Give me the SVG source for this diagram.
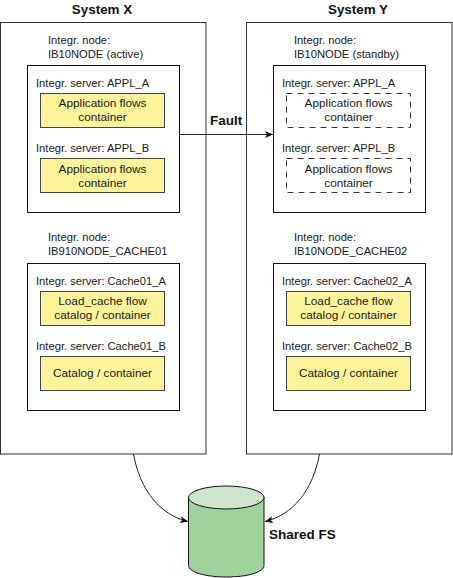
<svg xmlns="http://www.w3.org/2000/svg" width="453" height="578" viewBox="0 0 453 578">
<style>
text{font-family:"Liberation Sans",Arial,sans-serif;font-size:11.200px;fill:#1a1a1a}
.c{text-anchor:middle;font-size:11.800px}
.h{font-weight:bold;font-size:13.400px;fill:#111}
.f{font-weight:bold;font-size:13.500px;fill:#111}
.sys,.srv{fill:#fff;stroke:#333;stroke-width:1}
.srv{stroke:#111}
.y{fill:#fdf39b;stroke:#444;stroke-width:1}
.d{fill:#fff;stroke:#333;stroke-width:1;stroke-dasharray:6 5}
.l{fill:none;stroke:#222;stroke-width:1}
</style>
<defs><marker id="a" markerUnits="userSpaceOnUse" markerWidth="9" markerHeight="7" refX="8" refY="3.500" orient="auto"><path d="M0 0L8 3.500L0 7L2 3.500Z" fill="#111"/></marker></defs>
<g id="system-x">
<text class="h" text-anchor="middle" x="102" y="14">System X</text>
<rect class="sys" x="0.500" y="22.500" width="205.500" height="431.500"/>
<text x="48" y="43.500">Integr. node:</text>
<text x="48" y="57.500">IB10NODE (active)</text>
</g>
<g id="system-y">
<text class="h" text-anchor="middle" x="358" y="14">System Y</text>
<rect class="sys" x="246.500" y="22.500" width="205.500" height="431.500"/>
<text x="294" y="43.500">Integr. node:</text>
<text x="294" y="57.500">IB10NODE (standby)</text>
</g>
<g id="node-x-top">
<rect class="srv" x="27.500" y="65.500" width="152" height="147"/>
<text x="36" y="87">Integr. server: APPL_A</text>
<rect class="y" x="40.500" y="93.500" width="124" height="34"/>
<text class="c" x="102.500" y="107">Application flows</text>
<text class="c" x="102.500" y="121">container</text>
<text x="36" y="152">Integr. server: APPL_B</text>
<rect class="y" x="40.500" y="158.500" width="124" height="34"/>
<text class="c" x="102.500" y="173">Application flows</text>
<text class="c" x="102.500" y="187">container</text>
</g>
<g id="node-y-top">
<rect class="srv" x="273.500" y="65.500" width="152" height="147"/>
<text x="282" y="87">Integr. server: APPL_A</text>
<rect class="d" x="286.500" y="93.500" width="124" height="34"/>
<text class="c" x="348.500" y="107">Application flows</text>
<text class="c" x="348.500" y="121">container</text>
<text x="282" y="152">Integr. server: APPL_B</text>
<rect class="d" x="286.500" y="158.500" width="124" height="34"/>
<text class="c" x="348.500" y="173">Application flows</text>
<text class="c" x="348.500" y="187">container</text>
</g>
<g id="node-x-cache">
<text x="48" y="241">Integr. node:</text>
<text x="48" y="255">IB910NODE_CACHE01</text>
<rect class="srv" x="27.500" y="263.500" width="152" height="147"/>
<text x="36" y="285">Integr. server: Cache01_A</text>
<rect class="y" x="40.500" y="291.500" width="124" height="34"/>
<text class="c" x="102.500" y="305">Load_cache flow</text>
<text class="c" x="102.500" y="319">catalog / container</text>
<text x="36" y="350">Integr. server: Cache01_B</text>
<rect class="y" x="40.500" y="356.500" width="124" height="34"/>
<text class="c" x="102.500" y="377">Catalog / container</text>
</g>
<g id="node-y-cache">
<text x="294" y="241">Integr. node:</text>
<text x="294" y="255">IB10NODE_CACHE02</text>
<rect class="srv" x="273.500" y="263.500" width="152" height="147"/>
<text x="282" y="285">Integr. server: Cache02_A</text>
<rect class="y" x="286.500" y="291.500" width="124" height="34"/>
<text class="c" x="348.500" y="305">Load_cache flow</text>
<text class="c" x="348.500" y="319">catalog / container</text>
<text x="282" y="350">Integr. server: Cache02_B</text>
<rect class="y" x="286.500" y="356.500" width="124" height="34"/>
<text class="c" x="348.500" y="377">Catalog / container</text>
</g>
<g id="shared-fs">
<path d="M188.500 497V565.500C188.500 572 205 577 226.500 577S264 572 264 565.500V497Z" fill="#9fd29d" stroke="#111"/>
<ellipse cx="226.250" cy="497.500" rx="37.750" ry="11.500" fill="#cde6cb" stroke="#111"/>
<text class="f" x="269" y="539">Shared FS</text>
</g>
<g id="connectors">
<path class="l" d="M179.500 134.500H273" marker-end="url(#a)"/>
<path class="l" d="M133.500 454C140 490 160 515 188 521.500" marker-end="url(#a)"/>
<path class="l" d="M319.500 454C313 490 293 515 265 521.500" marker-end="url(#a)"/>
<text class="f" x="210" y="125">Fault</text>
</g>
</svg>
